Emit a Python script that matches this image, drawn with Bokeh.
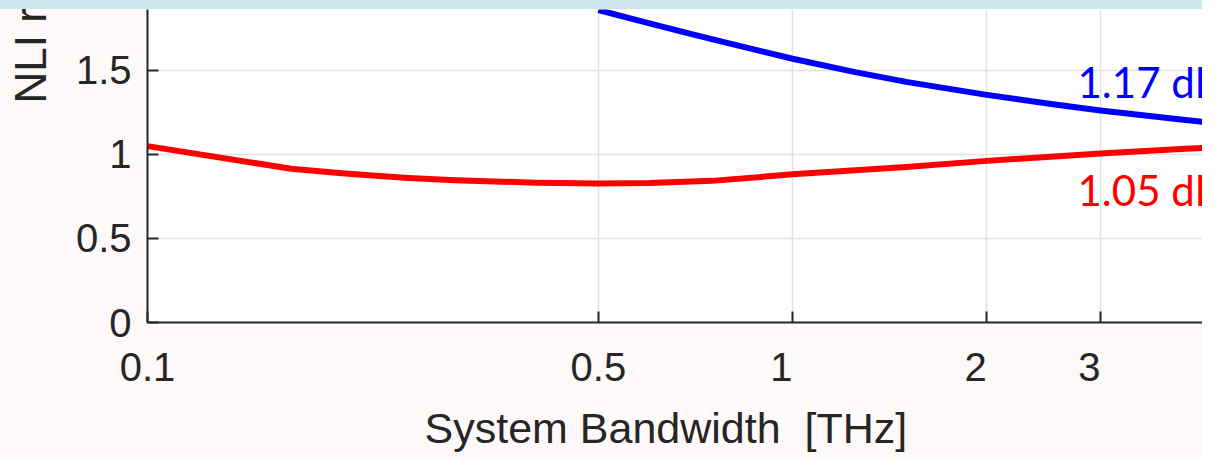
from bokeh.plotting import figure
from bokeh.models import (FixedTicker, Label, Range1d, Div, Title,
                          CustomJSTickFormatter)
from bokeh.layouts import column
from bokeh.embed import file_html
from bokeh.resources import INLINE

# NLI reduction curves versus system bandwidth (THz)
bandwidth_red = [0.1, 0.167, 0.2, 0.25, 0.3, 0.4, 0.5, 0.6, 0.75, 1,
                 1.5, 2, 3, 4, 5]
nli_red = [1.05, 0.915, 0.888, 0.862, 0.847, 0.832, 0.828, 0.831, 0.843,
           0.882, 0.926, 0.962, 1.006, 1.032, 1.05]
bandwidth_blue = [0.5, 0.6, 0.7, 0.8, 0.9, 1, 1.25, 1.5, 2, 2.5, 3, 4, 5]
nli_blue = [1.86, 1.78, 1.715, 1.66, 1.612, 1.57, 1.49, 1.432, 1.355,
            1.302, 1.262, 1.208, 1.17]

x_ticks = [0.1, 0.5, 1, 2, 3, 5]
x_tick_labels = ["0.1", "0.5", "1", "2", "3", "5"]
y_ticks = [0, 0.5, 1, 1.5]
y_tick_labels = ["0", "0.5", "1", "1.5"]

RED = "#FF0000"
BLUE = "#0000FF"
INK = "#262626"
PAGE = "#FDF9F8"
BAND = "#CDE6EE"
AX_FONT = "Liberation Sans"

# fixed-width tick strings: single digits padded to three characters
NBSP = "\u00a0"
x_tick_text = [t if len(t) > 1 else t + NBSP * 2 for t in x_tick_labels]

LOOKUP = "const i = vals.indexOf(tick); return i >= 0 ? names[i] : '';"

# layout in pixels: axes box 1096 x 313; the page is slid left by SHIFT so
# the axes start at x=147, and the canvas overhangs the window on the right
LEFT, SHIFT, BOX_W, RIGHT = 170, 23, 1096, 30
BOX_H, BOTTOM = 313, 140
FIG_W = LEFT + BOX_W + RIGHT

p = figure(width=FIG_W, height=BOX_H + BOTTOM, x_axis_type="log",
           x_range=Range1d(x_ticks[0], x_ticks[-1]), y_range=Range1d(0, 1.863),
           output_backend="svg", toolbar_location=None,
           min_border_left=LEFT, min_border_right=RIGHT, min_border_top=0,
           min_border_bottom=BOTTOM,
           background_fill_color="white", border_fill_color=PAGE,
           outline_line_color=None)

p.xaxis.ticker = FixedTicker(ticks=x_ticks, minor_ticks=[])
p.yaxis.ticker = FixedTicker(ticks=y_ticks, minor_ticks=[])
p.xaxis.formatter = CustomJSTickFormatter(
    args=dict(vals=x_ticks, names=x_tick_text), code=LOOKUP)
p.yaxis.formatter = CustomJSTickFormatter(
    args=dict(vals=y_ticks, names=y_tick_labels), code=LOOKUP)

for ax in (p.xaxis, p.yaxis):
    ax.axis_line_color = INK
    ax.axis_line_width = 2
    ax.major_tick_line_color = INK
    ax.major_tick_line_width = 2
    ax.major_tick_in = 11
    ax.major_tick_out = 0
    ax.minor_tick_in = 0
    ax.minor_tick_out = 0
    ax.major_label_text_font = AX_FONT
    ax.major_label_text_font_size = "40px"
    ax.major_label_text_color = INK
p.xaxis.major_label_standoff = 22
p.yaxis.major_label_standoff = 16

for g in (p.xgrid, p.ygrid):
    g.grid_line_color = "#E2E2E2"
    g.grid_line_width = 1.5

p.line(bandwidth_red, nli_red, line_width=6, line_color=RED,
       line_join="round")
p.line(bandwidth_blue, nli_blue, line_width=6, line_color=BLUE,
       line_join="round")

# end-of-curve values
p.add_layout(Label(x=bandwidth_blue[-1], y=nli_blue[-1],
                   text=f"{nli_blue[-1]:.2f} dB", text_align="left",
                   text_baseline="alphabetic", x_offset=-166, y_offset=44,
                   text_font="Lato", text_font_size="42px", text_color=BLUE))
p.add_layout(Label(x=bandwidth_red[-1], y=nli_red[-1],
                   text=f"{nli_red[-1]:.2f} dB", text_align="left",
                   text_baseline="alphabetic", x_offset=-166, y_offset=-44,
                   text_font="Lato", text_font_size="42px", text_color=RED))

# axis titles
p.add_layout(Title(text="NLI reduction [dB]", align="left", offset=219,
                   standoff=35, text_font=AX_FONT, text_font_size="44px",
                   text_font_style="normal", text_color=INK), "left")
p.add_layout(Title(text="System Bandwidth\u00a0\u00a0[THz]", align="left",
                   offset=277, standoff=21, text_font=AX_FONT,
                   text_font_size="43px", text_font_style="normal",
                   text_color=INK), "below")

band = Div(text="", width=FIG_W, height=9, margin=0,
           styles={"background-color": BAND})

layout = column(band, p, spacing=0)
html = file_html(layout, INLINE)
# the page is cropped to the window and slid left; no scrollbars
style = ("<style>html { overflow: hidden !important; } "
         "body { overflow: hidden !important; position: relative !important; "
         f"left: -{SHIFT}px !important; }}</style>")
html = html.replace("<head>", "<head>" + style, 1)
open("out.html", "w").write(html)
